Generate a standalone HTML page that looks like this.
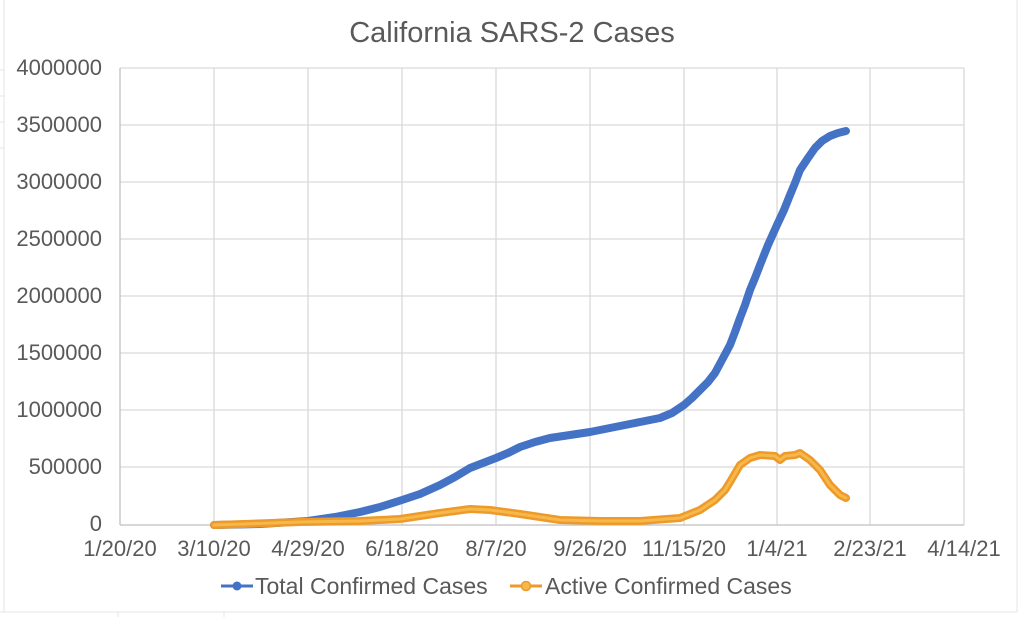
<!DOCTYPE html>
<html><head><style>body{margin:0;background:#fff}svg{display:block}</style></head><body>
<svg width="1023" height="617" xmlns="http://www.w3.org/2000/svg" font-family="Liberation Sans, sans-serif">
<rect width="1023" height="617" fill="#fff"/>
<g stroke="#e4e4e4" stroke-width="1">
<line x1="4" y1="0" x2="4" y2="612"/><line x1="0" y1="612" x2="1017" y2="612"/><line x1="1017" y1="0" x2="1017" y2="612"/>
<line x1="118" y1="612" x2="118" y2="617"/><line x1="224" y1="612" x2="224" y2="617"/>
<line x1="0" y1="70" x2="4" y2="70"/><line x1="0" y1="96" x2="4" y2="96"/><line x1="0" y1="122" x2="4" y2="122"/><line x1="0" y1="148" x2="4" y2="148"/>
</g>
<g stroke="#d9d9d9" stroke-width="1.3">
<line x1="120" y1="68" x2="964" y2="68"/><line x1="120" y1="125" x2="964" y2="125"/><line x1="120" y1="182" x2="964" y2="182"/><line x1="120" y1="239" x2="964" y2="239"/><line x1="120" y1="296" x2="964" y2="296"/><line x1="120" y1="353" x2="964" y2="353"/><line x1="120" y1="410" x2="964" y2="410"/><line x1="120" y1="467" x2="964" y2="467"/>
<line x1="214" y1="68" x2="214" y2="525"/><line x1="308" y1="68" x2="308" y2="525"/><line x1="402" y1="68" x2="402" y2="525"/><line x1="496" y1="68" x2="496" y2="525"/><line x1="590" y1="68" x2="590" y2="525"/><line x1="684" y1="68" x2="684" y2="525"/><line x1="777" y1="68" x2="777" y2="525"/><line x1="870" y1="68" x2="870" y2="525"/><line x1="964" y1="68" x2="964" y2="525"/>
</g>
<g stroke="#bfbfbf" stroke-width="1.3"><line x1="120" y1="68" x2="120" y2="525"/><line x1="120" y1="525" x2="964" y2="525"/></g>
<text x="512" y="42" text-anchor="middle" font-size="29" fill="#595959">California SARS-2 Cases</text>
<g font-size="22" fill="#595959" text-anchor="end">
<text x="102" y="75">4000000</text><text x="102" y="132">3500000</text><text x="102" y="189">3000000</text><text x="102" y="246">2500000</text><text x="102" y="303">2000000</text><text x="102" y="360">1500000</text><text x="102" y="417">1000000</text><text x="102" y="474">500000</text><text x="102" y="531">0</text>
</g>
<g font-size="22" fill="#595959" text-anchor="middle">
<text x="120" y="556">1/20/20</text><text x="214" y="556">3/10/20</text><text x="308" y="556">4/29/20</text><text x="402" y="556">6/18/20</text><text x="496" y="556">8/7/20</text><text x="590" y="556">9/26/20</text><text x="684" y="556">11/15/20</text><text x="777" y="556">1/4/21</text><text x="870" y="556">2/23/21</text><text x="964" y="556">4/14/21</text>
</g>
<polyline fill="none" stroke="#4472c4" stroke-width="8" stroke-linecap="round" stroke-linejoin="round" points="214,525 260,524 308,521 335,517 360,512 380,507 402,500 420,494 440,485 455,477 470,468 483,463 496,458 508,453 520,447 535,442 550,438 570,435 590,432 620,426 640,422 660,418 672,413 684,405 692,398 700,390 708,382 715,373 722,360 730,345 735,332 740,318 745,305 750,290 755,278 760,265 768,245 777,225 784,210 790,195 795,183 800,170 808,158 815,148 822,141 830,136 838,133 846,131"/>
<polyline fill="none" stroke="#ed9a2a" stroke-width="8" stroke-linecap="round" stroke-linejoin="round" points="214,525 300,522 360,521 400,519 420,516 440,513 470,509 490,510 520,514 540,517 560,520 600,521 640,521 680,518 700,510 715,500 725,490 730,482 740,465 750,458 760,455 775,456 780,460 785,456 795,455 800,453 810,460 820,470 830,485 840,495 846,498"/>
<polyline fill="none" stroke="#f7b84a" stroke-width="3" stroke-linecap="round" stroke-linejoin="round" points="214,525 300,522 360,521 400,519 420,516 440,513 470,509 490,510 520,514 540,517 560,520 600,521 640,521 680,518 700,510 715,500 725,490 730,482 740,465 750,458 760,455 775,456 780,460 785,456 795,455 800,453 810,460 820,470 830,485 840,495 846,498"/>
<line x1="221" y1="586" x2="253" y2="586" stroke="#4472c4" stroke-width="3"/><circle cx="237" cy="586" r="4.5" fill="#4472c4"/>
<text x="255" y="594" font-size="23" fill="#595959">Total Confirmed Cases</text>
<line x1="510" y1="586" x2="542" y2="586" stroke="#ed9a2a" stroke-width="3"/><circle cx="526" cy="586" r="4.5" fill="#f7b84a" stroke="#ed9a2a" stroke-width="1.5"/>
<text x="545" y="594" font-size="23" fill="#595959">Active Confirmed Cases</text>
</svg>
</body></html>
